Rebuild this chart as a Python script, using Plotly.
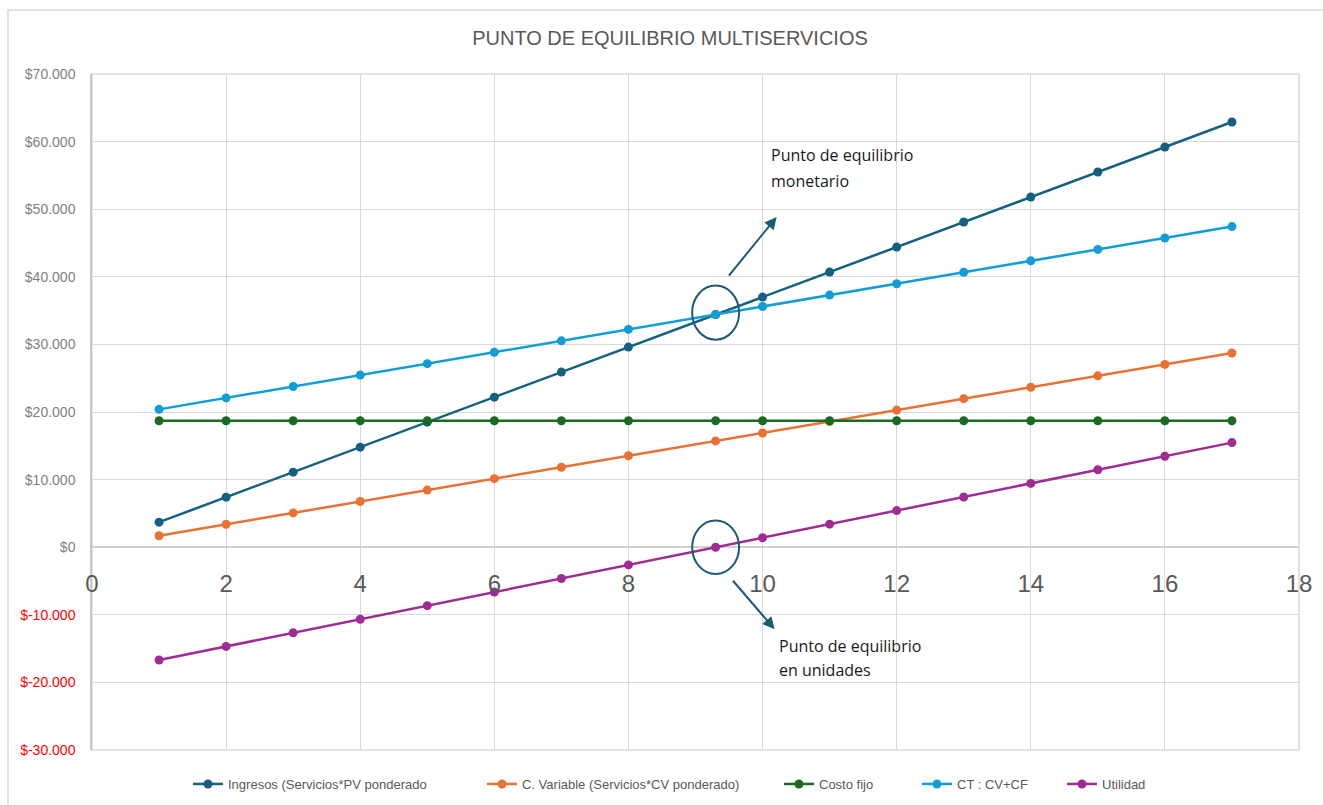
import plotly.graph_objects as go

# Data
unidades = [1, 2, 3, 4, 5, 6, 7, 8, 9.3, 10, 11, 12, 13, 14, 15, 16, 17]
ingresos = [3700, 7400, 11100, 14800, 18500, 22200, 25900, 29600, 34410, 37000, 40700, 44400, 48100, 51800, 55500, 59200, 62900]
c_variable = [1690, 3380, 5070, 6760, 8450, 10140, 11830, 13520, 15720, 16900, 18590, 20280, 21970, 23660, 25350, 27040, 28730]
costo_fijo = [18700] * 17
ct = [20390, 22080, 23770, 25460, 27150, 28840, 30530, 32220, 34420, 35600, 37290, 38980, 40670, 42360, 44050, 45740, 47430]
utilidad = [-16690, -14680, -12670, -10660, -8650, -6640, -4630, -2620, -10, 1400, 3410, 5420, 7430, 9440, 11450, 13460, 15470]

series_names = ["Ingresos (Servicios*PV ponderado", "C. Variable (Servicios*CV ponderado)",
                "Costo fijo", "CT : CV+CF", "Utilidad"]
series_values = [ingresos, c_variable, costo_fijo, ct, utilidad]
colors = ["#156082", "#E97132", "#196B24", "#0F9ED5", "#A02B93"]

y_ticks = [-30000, -20000, -10000, 0, 10000, 20000, 30000, 40000, 50000, 60000, 70000]
y_tick_labels = ["$-30.000", "$-20.000", "$-10.000", "$0", "$10.000", "$20.000", "$30.000",
                 "$40.000", "$50.000", "$60.000", "$70.000"]
x_ticks = [0, 2, 4, 6, 8, 10, 12, 14, 16, 18]

ticktext = []
for v, t in zip(y_ticks, y_tick_labels):
    if v < 0:
        ticktext.append(f'<span style="color:#FF0000">{t}</span>')
    else:
        ticktext.append(t)

W, H = 1323, 805
ml, mr, mt, mb = 92, 24, 74, 55
pw, ph = W - ml - mr, H - mt - mb

legend_ids = ["legend", "legend2", "legend3", "legend4", "legend5"]
legend_px = [196, 490, 787, 925, 1070]

fig = go.Figure()
for name, vals, col, lid in zip(series_names, series_values, colors, legend_ids):
    fig.add_trace(go.Scatter(
        x=unidades, y=vals, name=name, mode="lines+markers",
        line=dict(color=col, width=2.5),
        marker=dict(color=col, size=9),
        legend=lid,
    ))

legend_font = dict(family="Liberation Sans, Arial", size=13, color="#595959")
legend_layout = {}
for lid, px in zip(legend_ids, legend_px):
    legend_layout[lid] = dict(orientation="h", x=(px - ml - 8) / pw, xanchor="left",
                              y=-(784 - (mt + ph)) / ph, yanchor="middle",
                              font=legend_font, itemwidth=30, bgcolor="rgba(0,0,0,0)")

fig.update_layout(
    width=W, height=H,
    margin=dict(l=ml, r=mr, t=mt, b=mb, autoexpand=False),
    paper_bgcolor="white", plot_bgcolor="white",
    title=dict(text="PUNTO DE EQUILIBRIO MULTISERVICIOS", x=670 / W, xanchor="center",
               y=1 - 38 / H, yanchor="middle",
               font=dict(family="Liberation Sans, Arial", size=20, color="#595959")),
    xaxis=dict(range=[0, 18], tickvals=x_ticks, showgrid=True, gridcolor="#d9d9d9", gridwidth=1.3,
               zeroline=False, showline=False, anchor="free", position=0.3,
               tickfont=dict(family="Liberation Sans, Arial", size=24, color="#595959"),
               ticks="", ticklabelstandoff=20),
    yaxis=dict(range=[-30000, 70000], tickvals=y_ticks, ticktext=ticktext,
               showgrid=True, gridcolor="#d9d9d9", gridwidth=1.3,
               zeroline=True, zerolinecolor="#d0d0d0", zerolinewidth=1.5,
               showline=True, linecolor="#c8c8c8", linewidth=1.5,
               tickfont=dict(family="Liberation Sans, Arial", size=14, color="#7f7f7f"),
               ticks="", ticklabelstandoff=12),
    showlegend=True,
    **legend_layout,
)

# outer chart border
fig.add_shape(type="rect", xref="paper", yref="paper",
              x0=(8 - ml) / pw, x1=(1335 - ml) / pw,
              y0=(mt + ph - 815) / ph, y1=(mt + ph - 10) / ph,
              line=dict(color="#d9d9d9", width=1.5), layer="below")
# plot-area frame (top/right/bottom gridlines)
fig.add_shape(type="rect", xref="paper", yref="paper", x0=0, x1=1, y0=0, y1=1,
              line=dict(color="#d9d9d9", width=1.5), layer="below")

# circles
circ_col = "#1B5B75"
fig.add_shape(type="circle", xref="x", yref="y", x0=8.95, x1=9.65, y0=30700, y1=38700,
              line=dict(color=circ_col, width=2))
fig.add_shape(type="circle", xref="x", yref="y", x0=8.95, x1=9.65, y0=-3950, y1=3950,
              line=dict(color=circ_col, width=2))

# arrows
fig.add_annotation(x=10.21, y=48840, ax=9.48, ay=39960, xref="x", yref="y", axref="x", ayref="y",
                   text="", showarrow=True, arrowhead=2, arrowsize=1.2, arrowwidth=2, arrowcolor=circ_col)
fig.add_annotation(x=10.18, y=-12140, ax=9.54, ay=-4740, xref="x", yref="y", axref="x", ayref="y",
                   text="", showarrow=True, arrowhead=2, arrowsize=1.2, arrowwidth=2, arrowcolor=circ_col)

txt_font = dict(family="Open Sans, Lato", size=16, color="#1a1a1a")
for txt, xv, yv in [("Punto de equilibrio", 10.1, 57950), ("monetario", 10.1, 54100),
                    ("Punto de equilibrio", 10.22, -14600), ("en unidades", 10.22, -18150)]:
    fig.add_annotation(x=xv, y=yv, xref="x", yref="y", text=txt, showarrow=False,
                       xanchor="left", yanchor="middle", font=txt_font)

fig.write_html("out.html")
